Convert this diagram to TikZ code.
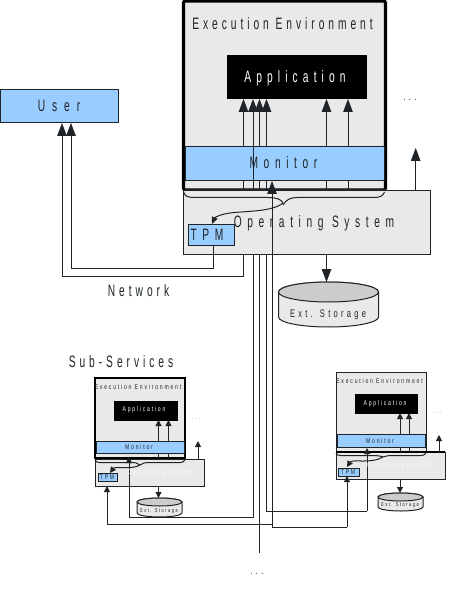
\documentclass[tikz,border=0pt]{standalone}
\usepackage{fontspec}
\usetikzlibrary{arrows.meta}
\newfontfamily\bigfont[FakeStretch=0.62,LetterSpace=24]{Liberation Sans}
\newfontfamily\bigfontb[FakeStretch=0.62,LetterSpace=31]{Liberation Sans}
\newfontfamily\bigfontc[FakeStretch=0.62,LetterSpace=34]{Liberation Sans}
\newfontfamily\bigfontd[FakeStretch=0.62,LetterSpace=42]{Liberation Sans}
\newfontfamily\midfont[FakeStretch=0.68,LetterSpace=30]{Liberation Sans}
\newfontfamily\smallfont[FakeStretch=0.72,LetterSpace=26]{Liberation Sans}
\definecolor{envgrey}{HTML}{E9E9E9}
\definecolor{monblue}{HTML}{99CCFF}
\definecolor{ink}{HTML}{1E2428}
\definecolor{topgrey}{HTML}{CCCCCC}
\newcommand{\drumshape}[3]{% name, half width, vertical radius
  \path[draw=ink,fill=envgrey,line width=1pt] ([yshift=-#3pt]#1.north west) -- ([yshift=#3pt]#1.south west)
     arc[start angle=180,end angle=360,x radius=#2pt,y radius=#3pt] -- ([yshift=-#3pt]#1.north east)
     arc[start angle=0,end angle=180,x radius=#2pt,y radius=#3pt] -- cycle;
  \path[draw=ink,fill=topgrey,line width=1pt] ([yshift=-#3pt]#1.north) ellipse [x radius=#2pt,y radius=#3pt];
}
\tikzset{
  x=1pt,y=-1pt,
  box/.style={anchor=north west,inner sep=0pt,outer sep=0pt,draw=ink,line width=1pt},
  envbig/.style={box,fill=envgrey,draw=black,line width=3.2pt,rounded corners=2pt},
  envsmall/.style={box,fill=envgrey,draw=black,line width=1.6pt},
  osbox/.style={box,fill=envgrey,line width=1pt},
  blue box/.style={box,fill=monblue},
  appbox/.style={box,fill=black,draw=black},
  drumarea/.style={anchor=north west,inner sep=0pt,outer sep=0pt},
  bigtext/.style={inner sep=0pt,text=ink,font=\fontsize{16.5}{18}\bigfont},
  bigb/.style={bigtext,font=\fontsize{16.5}{18}\bigfontb},
  bigc/.style={bigtext,font=\fontsize{16.5}{18}\bigfontc},
  bigd/.style={bigtext,font=\fontsize{16.5}{18}\bigfontd},
  midtext/.style={inner sep=0pt,text=ink,font=\fontsize{11}{12}\midfont},
  smalltext/.style={inner sep=0pt,text=ink,font=\fontsize{7}{8}\smallfont},
  tinytext/.style={inner sep=0pt,text=ink,font=\fontsize{5.6}{6}\smallfont},
  apptext/.style={text=white},
  faint/.style={text=white!85!envgrey},
  wire/.style={draw=ink,line width=1pt},
  arr/.style={wire,-{Triangle[length=13pt,width=9.5pt]}},
  arrs/.style={wire,-{Triangle[length=6pt,width=6pt]}},
  arrc/.style={wire,-{Triangle[length=7pt,width=6pt]}},
}
\begin{document}
\begin{tikzpicture}
\useasboundingbox (0,0) rectangle (451,593);
\fill[white] (0,0) rectangle (451,593);

% free ends and routing coordinates
\coordinate (x243) at (243.5,0);
\coordinate (x253) at (253,0);
\coordinate (x259) at (259.5,0);
\coordinate (x266) at (266.5,0);
\coordinate (x272) at (272,0);
\coordinate (x326) at (326.5,0);
\coordinate (x348) at (348,0);
\coordinate (x415) at (415.7,0);
\coordinate (x213) at (213,0);
\coordinate (x62) at (62,0);
\coordinate (x71) at (71,0);
\coordinate (y276) at (0,276);
\coordinate (y268) at (0,268);
\coordinate (y517) at (0,517);
\coordinate (y511) at (0,511);
\coordinate (y524) at (0,524);
\coordinate (y527) at (0,527);
\coordinate (freeend) at (259.5,553);
\coordinate (upend) at (415.7,148);
\coordinate (lup) at (198,441);
\coordinate (rup) at (439,435);

% ---- main service
\node[envbig,minimum width=202pt,minimum height=189pt] (env) at (183.5,1) {};
\node[appbox,minimum width=139pt,minimum height=43pt] (app) at (227,56) {};

% ---- left sub-service back
\node[envsmall,minimum width=90pt,minimum height=80pt] (lenv) at (95,378) {};
\node[appbox,minimum width=63pt,minimum height=19pt] (lapp) at (114,401) {};
% ---- right sub-service back
\node[box,fill=envgrey,minimum width=90pt,minimum height=80pt] (renv) at (336,372) {};
\node[appbox,minimum width=62pt,minimum height=19pt] (rapp) at (355,394) {};

% storage drums
\node[drumarea,minimum width=100pt,minimum height=45pt] (st) at (278.5,282) {};
\drumshape{st}{50}{10}
\node[drumarea,minimum width=45pt,minimum height=19pt] (lst) at (137,498) {};
\drumshape{lst}{22.5}{4}
\node[drumarea,minimum width=45pt,minimum height=18pt] (rst) at (378,493) {};
\drumshape{rst}{22.5}{4}

% connectors that pass behind the boxes
\draw[arr] (env.south -| x243) -- (app.south -| x243);
\draw[arr] (env.south -| x259) -- (app.south -| x259);
\draw[arr] (env.south -| x266) -- (app.south -| x266);
\draw[arr] (env.south -| x326) -- (app.south -| x326);
\draw[arr] (env.south -| x348) -- (app.south -| x348);

% main -> user
\node[blue box,minimum width=118pt,minimum height=33pt] (user) at (0,90) {};
\draw[arr] (x243 |- env.south) -- (x243 |- y276) -- (x62 |- y276) -- (x62 |- user.south);

% os and monitor of main
\node[osbox,minimum width=246.5pt,minimum height=63pt] (os) at (183.5,191) {};
\node[blue box,minimum width=199pt,minimum height=34pt] (mon) at (185,147) {};
\draw[wire] (env.south west) ++(1.5,0) -- (env.south east);
\draw[line width=3.2pt,black] (env.south west) ++(0,-1) -- ++(0,-4);
\draw[line width=3.2pt,black] (env.south east) ++(0,-1) -- ++(0,-4);
\node[blue box,minimum width=46pt,minimum height=20pt] (tpm) at (188,225) {};

% network wires
\draw[arr] (tpm.south -| x213) -- (x213 |- y268) -- (x71 |- y268) -- (x71 |- user.south);
\draw[arr] (x253 |- env.south) -- (x253 |- app.south);

% left sub boxes
\node[osbox,minimum width=109pt,minimum height=27pt] (los) at (95,459) {};
\node[blue box,minimum width=88pt,minimum height=12pt] (lmon) at (96,441) {};
\node[blue box,minimum width=19pt,minimum height=8pt] (ltpm) at (98,473) {};
% right sub boxes
\node[osbox,minimum width=109pt,minimum height=27pt] (ros) at (336,452) {};
\node[blue box,minimum width=88pt,minimum height=13pt] (rmon) at (337,434) {};
\node[blue box,minimum width=21pt,minimum height=8pt] (rtpm) at (338,468) {};
\draw[line width=1.6pt,black] (ros.north west) -- (ros.north east);

% wires to the sub-services
\coordinate (x129) at (129,0);
\coordinate (x107) at (107,0);
\coordinate (x367) at (367,0);
\coordinate (x347) at (347,0);
\draw[wire] (x253 |- os.south) -- (x253 |- y517) -- (x129 |- y517);
\draw[arrs] (x129 |- y517) -- (129,457);
\draw[wire] (x259 |- os.south) -- (freeend);
\draw[wire] (x266 |- os.south) -- (x266 |- y511) -- (x367 |- y511);
\draw[arrs] (x367 |- y511) -- (367,448);
\draw[wire] (x272 |- y527) -- (x347 |- y527);
\draw[arrs] (x347 |- y527) -- (rtpm.south -| x347);
\draw[arrs] (x272 |- y524) -- (x107 |- y524) -- (los.south -| x107);
\draw[arr] (x272 |- y527) -- (x272 |- mon.south);

% main brace and its arrow to the TPM
\draw[wire] (183.5,192) .. controls (185,196) and (187,197.5) .. (195,197.5) -- (268,197.5) .. controls (276,197.5) and (281,199) .. (283,203);
\draw[wire] (283,205) .. controls (286,200) and (290,197.5) .. (297,197.5) -- (374,197.5) .. controls (380,197.5) and (383,196) .. (384.5,192);
\draw[arrc] (283,203) .. controls (272,212) and (245,211) .. (230,213) .. controls (222,214) and (215,217) .. (212,224);

% other main arrows
\draw[arr] (x415 |- os.north) -- (upend);
\draw[arr] (x326 |- os.south) -- (x326 |- st.north);

% left sub arrows
\coordinate (x158) at (158.5,0);
\coordinate (x168) at (168.5,0);
\draw[arrs] (x158 |- lmon.north) -- (x158 |- lapp.south);
\draw[arrs] (x168 |- lmon.north) -- (x168 |- lapp.south);
\draw[wire] (x158 |- lmon.south) -- (x158 |- lenv.south);
\draw[wire] (x168 |- lmon.south) -- (x168 |- lenv.south);
\draw[arrs] (los.north -| lup) -- (lup);
\draw[arrs] (x158 |- los.south) -- (x158 |- lst.north);
\draw[wire] (95,460) .. controls (96,462) and (97,462.5) .. (100,462.5) -- (131,462.5) .. controls (135,462.5) and (138,463) .. (140,465);
\draw[wire] (140,465) .. controls (143,463) and (145,462.5) .. (148,462.5) -- (180,462.5) .. controls (182,462.5) and (184,462) .. (185,460);
\draw[arrs] (140,465) .. controls (132,470) and (115,466) .. (110,473);

% right sub arrows
\coordinate (x400) at (400,0);
\coordinate (x409) at (409,0);
\draw[arrs] (x400 |- rmon.north) -- (x400 |- rapp.south);
\draw[arrs] (x409 |- rmon.north) -- (x409 |- rapp.south);
\draw[wire] (x400 |- rmon.south) -- (x400 |- renv.south);
\draw[wire] (x409 |- rmon.south) -- (x409 |- renv.south);
\draw[arrs] (ros.north -| rup) -- (rup);
\draw[arrs] (x400 |- ros.south) -- (x400 |- rst.north);
\draw[wire] (336,453) .. controls (337,455) and (338,455.5) .. (341,455.5) -- (372,455.5) .. controls (377,455.5) and (381,456) .. (383,457);
\draw[wire] (383,457) .. controls (386,456) and (388,455.5) .. (391,455.5) -- (421,455.5) .. controls (423,455.5) and (425,455) .. (426,453);
\draw[arrs] (383,457) .. controls (372,464) and (352,459) .. (347,467);

% labels, main
\node[bigtext] (lenvt) at (282.5,24) {Execution Environment};
\node[bigb,apptext] (lappt) at (295,78) {Application};
\node[bigc] (lmont) at (283.5,163) {Monitor};
\node[bigc] (lost) at (314,223) {Operating System};
\node[bigc] (ltpmt) at (207,235) {TPM};
\node[bigd] (lusert) at (59,106) {User};
\node[bigtext] (lnet) at (138.5,291) {Network};
\node[bigtext] (lsub) at (121,362) {Sub-Services};
\node[midtext] (lextt) at (328,315) {Ext. Storage};
\node[midtext] (dots1) at (410,100) {...};
\node[midtext] (dots2) at (257,574) {...};

% labels, left sub
\node[smalltext] (a1) at (138,387) {Execution Environment};
\node[smalltext,apptext] (a2) at (144,410) {Application};
\node[smalltext] (a3) at (139,446.5) {Monitor};
\node[smalltext,faint] (a4) at (161,473) {Operating System};
\node[smalltext] (a5) at (107,477) {TPM};
\node[tinytext] (a6) at (159,511.5) {Ext. Storage};
\node[smalltext,text=gray] (a7) at (196,419) {...};

% labels, right sub
\node[smalltext] (b1) at (379.5,380.5) {Execution Environment};
\node[smalltext,apptext] (b2) at (385,404) {Application};
\node[smalltext] (b3) at (380,440.5) {Monitor};
\node[smalltext,faint] (b4) at (400,466) {Operating System};
\node[smalltext] (b5) at (348,472) {TPM};
\node[tinytext] (b6) at (400,505) {Ext. Storage};
\node[smalltext,text=gray] (b7) at (437,413) {...};
\end{tikzpicture}
\end{document}
